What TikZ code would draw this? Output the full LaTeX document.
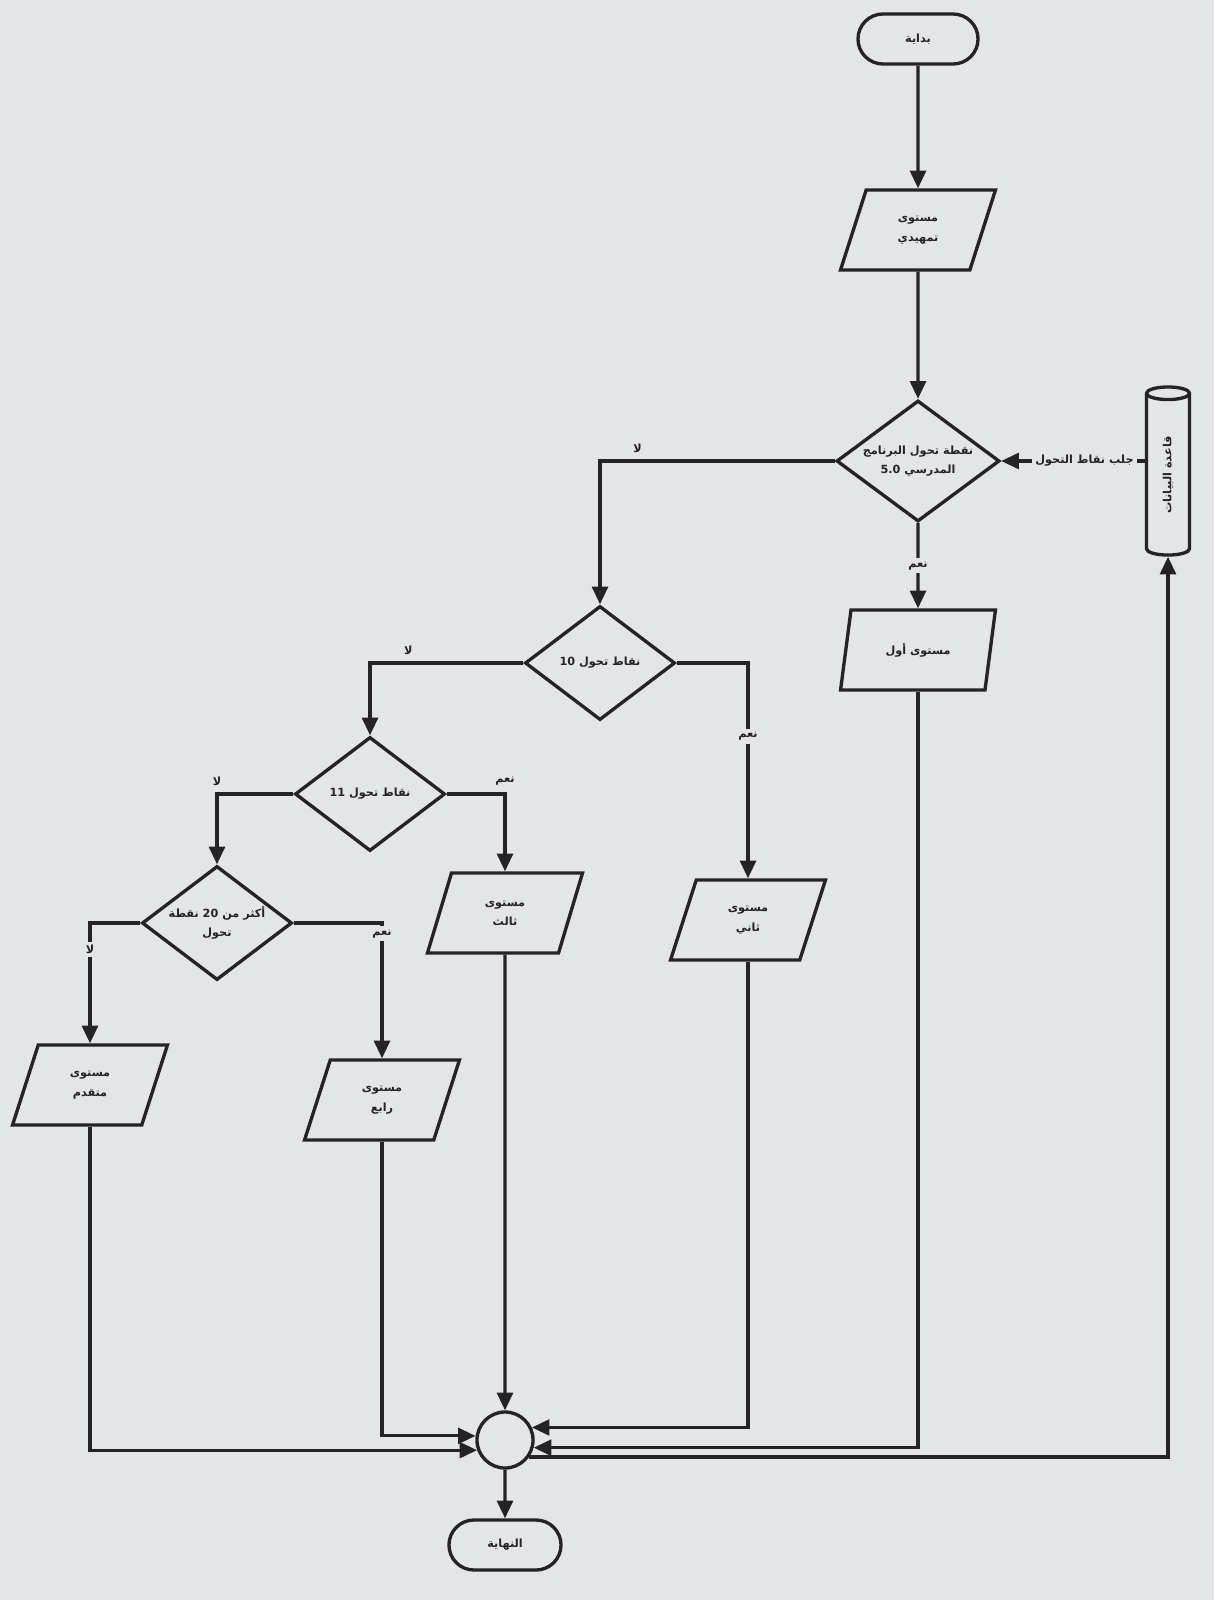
\documentclass[tikz,border=0pt]{standalone}
\usepackage{fontspec}
\usepackage{tikz}
\usetikzlibrary{arrows.meta,shapes.geometric,shapes.misc}
\newfontfamily\arabicfont[Script=Arabic]{DejaVu Sans}
\TeXXeTstate=1
\newcommand{\arb}[1]{{\arabicfont\bfseries\beginR #1\endR}}
\definecolor{paper}{RGB}{228,229,233}
\definecolor{ink}{RGB}{36,36,38}

\begin{document}
\begin{tikzpicture}[x=0.01cm, y=-0.01cm,
  every node/.style={font=\fontsize{3.2}{5.5}\selectfont, text=ink, inner sep=0pt},
  box/.style={draw = ink, line width=0.95pt, align=center},
  term/.style={box, rounded rectangle, minimum width=1.2cm, minimum height=0.5cm},
  io/.style={box, trapezium, trapezium left angle=70, trapezium right angle=110, trapezium stretches=true, minimum width=1.55cm, minimum height=0.8cm},
  test/.style={box, diamond, aspect=1.35, minimum width=1.5cm, minimum height=1.14cm},
  flow/.style={draw = ink, line width=0.9pt, -{Triangle[length=5pt,width=4.5pt]}},
  ans/.style={fill=paper, inner sep=1pt}]
\fill[paper] (0,0) rectangle (1214,1600);
\node[term] (start) at (918,39) {\arb{بداية}};
\node[io] (lvl0) at (918,230) {\arb{مستوى}\\\arb{تمهيدي}};
\node[test, minimum width=1.63cm, minimum height=1.21cm] (q1) at (918,461) {\arb{نقطة تحول البرنامج}\\\arb{المدرسي \beginL 5.0\endL{}}};
\node[box, cylinder, shape border rotate=90, aspect=1.2, minimum width=0.43cm, minimum height=1.68cm] (db) at (1168,475) {\rotatebox{90}{\arb{قاعدة البيانات}}};
\node[io] (lvl1) at (918,650) {\arb{مستوى أول}};
\node[test] (q2) at (600,663) {\arb{نقاط تحول \beginL 10\endL{}}};
\node[io] (lvl2) at (748,920) {\arb{مستوى}\\\arb{ثاني}};
\node[test] (q3) at (370,794) {\arb{نقاط تحول \beginL 11\endL{}}};
\node[io] (lvl3) at (505,913) {\arb{مستوى}\\\arb{ثالث}};
\node[test] (q4) at (217,923) {\arb{أكثر من \beginL 20\endL{} نقطة}\\\arb{تحول}};
\node[io] (lvl5) at (90,1085) {\arb{مستوى}\\\arb{متقدم}};
\node[io] (lvl4) at (382,1100) {\arb{مستوى}\\\arb{رابع}};
\node[circle, draw = ink, line width=0.95pt, minimum size=0.56cm] (join) at (505,1440) {};
\node[term, minimum width=1.12cm] (stop) at (505,1545) {\arb{النهاية}};
\draw[flow] (start) -- (lvl0);
\draw[flow] (lvl0) -- (q1);
\draw[flow] (q1.west) -| node[ans, pos=0.42, above=1pt] {\arb{لا}} (q2.north);
\draw[flow] (q1.south) -- node[ans] {\arb{نعم}} (lvl1.north);
\draw[flow] (q1.east -| db.west) -- node[ans, pos=0.42] {\arb{جلب نقاط التحول}} (q1.east);
\draw[flow] (q2.west) -| node[ans, pos=0.375, above=1pt] {\arb{لا}} (q3.north);
\draw[flow] (q2.east) -| node[ans, pos=0.67] {\arb{نعم}} (lvl2.north);
\draw[flow] (q3.west) -| node[ans, pos=0.5, above=1pt] {\arb{لا}} (q4.north);
\draw[flow] (q3.east) -| node[ans, pos=0.5, above=1pt] {\arb{نعم}} (lvl3.north);
\draw[flow] (q4.west) -| node[ans, pos=0.61] {\arb{لا}} (lvl5.north);
\draw[flow] (q4.east) -| node[ans, pos=0.54] {\arb{نعم}} (lvl4.north);
\draw[flow] (lvl3) -- (join);
\draw[flow] (lvl5.south) |- (join.200);
\draw[flow] (lvl4.south) |- (join.172);
\draw[flow] (lvl2.south) |- (join.25);
\draw[flow] (lvl1.south) |- (join.-15);
\draw[flow] (join.-35) -| (db.south);
\draw[flow] (join) -- (stop);
\end{tikzpicture}
\end{document}
